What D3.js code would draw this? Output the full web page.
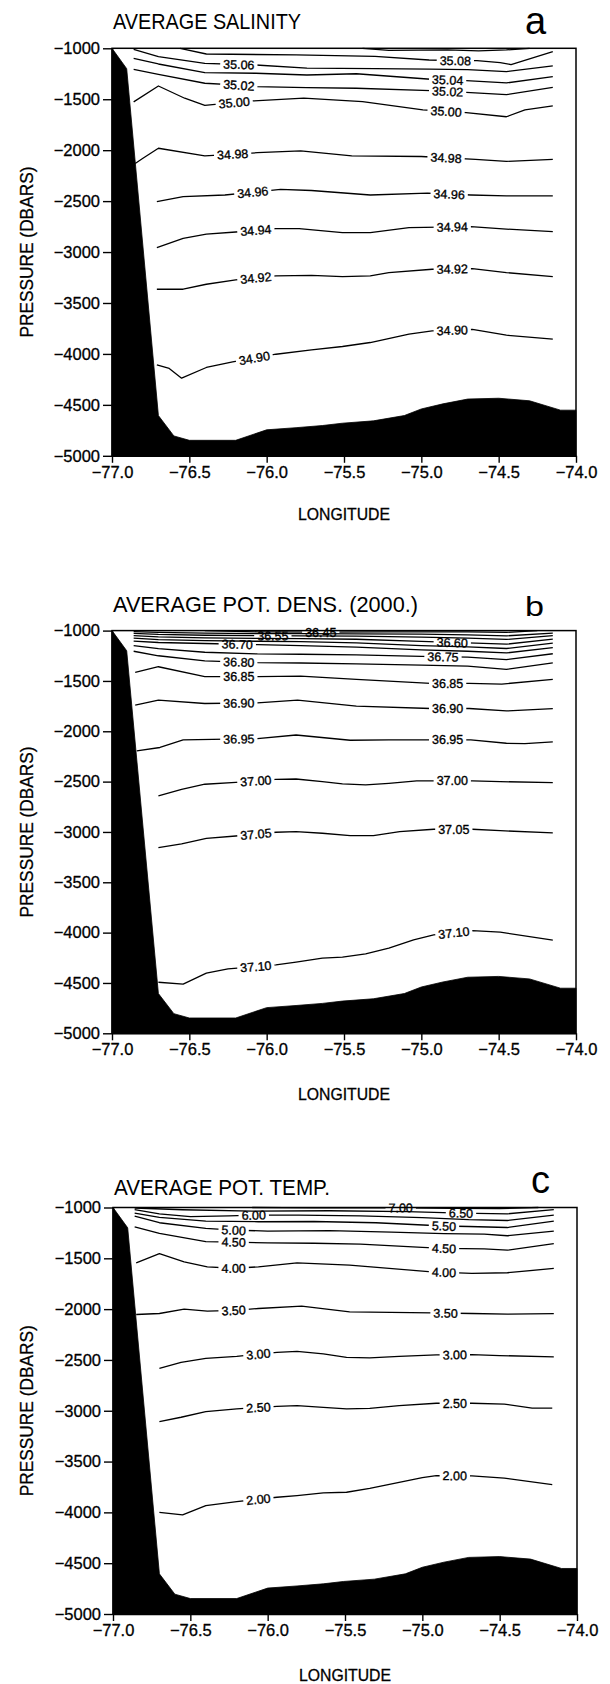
<!DOCTYPE html>
<html><head><meta charset="utf-8">
<script src="https://cdn.jsdelivr.net/npm/d3@7"></script>
<style>
body{margin:0;background:#fff;}
svg{display:block;}
text{font-family:"Liberation Sans",Arial,sans-serif;fill:#000;}
</style></head><body>
<svg id="chart" width="610" height="1684"></svg>
<script>
// ---------- DATA ----------
const lonTicks = [-77.0, -76.5, -76.0, -75.5, -75.0, -74.5, -74.0];
const pressureTicks = [-1000, -1500, -2000, -2500, -3000, -3500, -4000, -4500, -5000];

// bottom topography (lon, pressure)
const bathymetry = [[-77,-1000],[-76.905,-1200],[-76.70,-4605],[-76.60,-4805],[-76.50,-4848],[-76.20,-4848],
  [-76.00,-4745],[-75.81,-4724],[-75.64,-4703],[-75.51,-4680],[-75.31,-4657],[-75.11,-4605],[-75.00,-4540],
  [-74.86,-4490],[-74.70,-4443],[-74.50,-4435],[-74.30,-4460],[-74.10,-4552],[-74.00,-4552]];

// (a) salinity
const salinityLevels = ["35.10","35.08","35.06","35.04","35.02","35.00","34.98","34.96","34.94","34.92","34.90"];
const salinityLines = [
  [[-75.38,-1000],[-75.21,-1020],[-74.83,-1016],[-74.63,-1026],[-74.45,-1016],[-74.30,-1000]],
  [[-76.56,-1000],[-76.39,-1056],[-75.81,-1065],[-75.30,-1080],[-74.95,-1115],[-74.78,-1121],[-74.64,-1121],[-74.49,-1140],[-74.42,-1160],[-74.15,-1033]],
  [[-76.86,-1010],[-76.70,-1082],[-76.40,-1147],[-76.07,-1164],[-75.74,-1195],[-75.30,-1200],[-74.95,-1205],[-74.70,-1210],[-74.45,-1229],[-74.15,-1173]],
  [[-76.86,-1098],[-76.70,-1154],[-76.40,-1239],[-76.07,-1245],[-75.74,-1262],[-75.42,-1250],[-74.94,-1304],[-74.71,-1317],[-74.45,-1340],[-74.15,-1278]],
  [[-76.86,-1206],[-76.70,-1255],[-76.40,-1343],[-76.18,-1362],[-76.07,-1376],[-75.74,-1386],[-75.42,-1392],[-74.94,-1415],[-74.71,-1432],[-74.45,-1455],[-74.15,-1383]],
  [[-76.86,-1526],[-76.70,-1370],[-76.53,-1490],[-76.40,-1560],[-76.30,-1545],[-76.09,-1517],[-75.76,-1490],[-75.38,-1523],[-74.99,-1605],[-74.71,-1631],[-74.45,-1672],[-74.33,-1605],[-74.15,-1566]],
  [[-76.85,-2130],[-76.80,-2080],[-76.70,-1981],[-76.40,-2055],[-76.06,-2025],[-75.78,-2007],[-75.45,-2055],[-75.00,-2062],[-74.65,-2090],[-74.45,-2110],[-74.15,-2090]],
  [[-76.71,-2505],[-76.54,-2455],[-76.27,-2440],[-75.91,-2385],[-75.71,-2396],[-75.33,-2440],[-74.96,-2422],[-74.68,-2440],[-74.45,-2449],[-74.15,-2449]],
  [[-76.71,-2956],[-76.54,-2865],[-76.39,-2825],[-76.20,-2803],[-75.94,-2770],[-75.79,-2770],[-75.51,-2809],[-75.33,-2809],[-75.08,-2760],[-74.68,-2750],[-74.45,-2775],[-74.15,-2799]],
  [[-76.71,-3365],[-76.54,-3365],[-76.39,-3316],[-76.20,-3274],[-75.94,-3234],[-75.71,-3228],[-75.51,-3241],[-75.33,-3234],[-75.21,-3202],[-74.93,-3169],[-74.67,-3162],[-74.45,-3202],[-74.15,-3241]],
  [[-76.71,-4107],[-76.63,-4143],[-76.55,-4238],[-76.39,-4133],[-76.22,-4078],[-75.94,-4003],[-75.71,-3960],[-75.51,-3927],[-75.33,-3888],[-75.08,-3806],[-74.93,-3774],[-74.67,-3760],[-74.45,-3816],[-74.15,-3855]]
];
const salinityLabelLons = [[],[-74.78],[-76.18],[-74.83],[-76.18,-74.83],[-76.21,-74.84],[-76.22,-74.84],[-76.09,-74.82],[-76.07,-74.80],[-76.07,-74.80],[-76.08,-74.80]];

// (b) potential density (2000)
const densityLevels = ["36.45","36.50","36.55","36.60","36.65","36.70","36.75","36.80","36.85","36.90","36.95","37.00","37.05","37.10"];
const densityLines = [
  [[-76.40,-1000],[-76.06,-1012],[-75.65,-1015],[-75.20,-1012],[-74.70,-1012],[-74.45,-1018],[-74.25,-1000]],
  [[-76.86,-1010],[-76.70,-1018],[-76.40,-1026],[-76.06,-1030],[-75.78,-1030],[-75.42,-1032],[-75.00,-1036],[-74.70,-1042],[-74.45,-1052],[-74.15,-1025]],
  [[-76.86,-1028],[-76.70,-1038],[-76.40,-1046],[-76.06,-1050],[-75.78,-1052],[-75.42,-1055],[-75.00,-1064],[-74.70,-1075],[-74.45,-1088],[-74.15,-1050]],
  [[-76.86,-1050],[-76.70,-1062],[-76.40,-1072],[-76.06,-1078],[-75.78,-1080],[-75.42,-1086],[-75.00,-1108],[-74.70,-1122],[-74.45,-1135],[-74.15,-1085]],
  [[-76.86,-1075],[-76.70,-1090],[-76.40,-1100],[-76.06,-1106],[-75.78,-1110],[-75.42,-1122],[-75.00,-1150],[-74.70,-1162],[-74.45,-1178],[-74.15,-1125]],
  [[-76.86,-1105],[-76.70,-1118],[-76.40,-1128],[-76.06,-1140],[-75.78,-1150],[-75.42,-1165],[-75.00,-1192],[-74.70,-1205],[-74.45,-1222],[-74.15,-1170]],
  [[-76.86,-1150],[-76.70,-1180],[-76.40,-1215],[-76.06,-1232],[-75.78,-1235],[-75.42,-1242],[-75.00,-1256],[-74.70,-1264],[-74.45,-1288],[-74.15,-1230]],
  [[-76.86,-1205],[-76.70,-1250],[-76.40,-1300],[-76.06,-1318],[-75.78,-1322],[-75.42,-1330],[-75.00,-1343],[-74.70,-1353],[-74.45,-1385],[-74.15,-1320]],
  [[-76.85,-1415],[-76.70,-1359],[-76.40,-1458],[-76.06,-1458],[-75.78,-1452],[-75.42,-1485],[-74.94,-1525],[-74.69,-1525],[-74.48,-1531],[-74.15,-1484]],
  [[-76.85,-1740],[-76.70,-1691],[-76.40,-1724],[-76.06,-1717],[-75.80,-1691],[-75.42,-1750],[-74.94,-1774],[-74.69,-1774],[-74.45,-1798],[-74.15,-1775]],
  [[-76.84,-2194],[-76.69,-2161],[-76.54,-2086],[-76.35,-2080],[-76.06,-2073],[-75.81,-2037],[-75.46,-2089],[-75.21,-2086],[-74.96,-2086],[-74.68,-2086],[-74.45,-2119],[-74.33,-2122],[-74.15,-2106]],
  [[-76.70,-2642],[-76.55,-2576],[-76.40,-2526],[-76.20,-2507],[-75.94,-2477],[-75.81,-2474],[-75.64,-2500],[-75.51,-2523],[-75.36,-2533],[-75.21,-2517],[-75.03,-2493],[-74.67,-2493],[-74.49,-2500],[-74.15,-2510]],
  [[-76.70,-3155],[-76.55,-3119],[-76.39,-3063],[-76.20,-3040],[-75.94,-3003],[-75.81,-2997],[-75.64,-3013],[-75.46,-3036],[-75.31,-3036],[-75.14,-2997],[-74.92,-2973],[-74.67,-2973],[-74.49,-2987],[-74.15,-3010]],
  [[-76.70,-4493],[-76.54,-4512],[-76.39,-4403],[-76.25,-4360],[-75.94,-4321],[-75.81,-4294],[-75.64,-4254],[-75.51,-4244],[-75.36,-4211],[-75.21,-4155],[-75.05,-4072],[-74.92,-4023],[-74.67,-3980],[-74.49,-3996],[-74.15,-4075]]
];
const densityLabelLons = [[-75.65],[],[-75.96],[-74.80],[],[-76.19],[-74.86],[-76.18],[-76.18,-74.83],[-76.18,-74.83],[-76.18,-74.83],[-76.07,-74.80],[-76.07,-74.79],[-76.07,-74.79]];

// (c) potential temperature
const tempLevels = ["7.00","6.50","6.00","5.50","5.00","4.50","4.00","3.50","3.00","2.50","2.00"];
const tempLines = [
  [[-76.10,-1000],[-75.70,-1004],[-75.14,-1003],[-74.80,-1008],[-74.50,-1010],[-74.25,-1000]],
  [[-76.86,-1005],[-76.55,-1022],[-76.10,-1035],[-75.60,-1032],[-75.10,-1040],[-74.75,-1055],[-74.45,-1062],[-74.15,-1020]],
  [[-76.86,-1020],[-76.70,-1062],[-76.50,-1090],[-76.25,-1082],[-76.09,-1075],[-75.80,-1075],[-75.40,-1082],[-75.00,-1100],[-74.70,-1120],[-74.45,-1128],[-74.15,-1075]],
  [[-76.86,-1055],[-76.70,-1098],[-76.40,-1135],[-76.06,-1140],[-75.70,-1138],[-75.30,-1150],[-74.86,-1182],[-74.70,-1187],[-74.45,-1197],[-74.15,-1135]],
  [[-76.86,-1085],[-76.70,-1150],[-76.40,-1205],[-76.22,-1223],[-76.00,-1232],[-75.60,-1228],[-75.20,-1242],[-74.86,-1258],[-74.60,-1262],[-74.45,-1278],[-74.15,-1232]],
  [[-76.86,-1190],[-76.70,-1255],[-76.40,-1335],[-76.22,-1340],[-76.00,-1348],[-75.70,-1352],[-75.40,-1360],[-75.00,-1392],[-74.86,-1402],[-74.60,-1408],[-74.45,-1420],[-74.15,-1355]],
  [[-76.85,-1544],[-76.70,-1453],[-76.54,-1535],[-76.39,-1584],[-76.22,-1598],[-76.06,-1584],[-75.81,-1545],[-75.47,-1568],[-74.94,-1633],[-74.68,-1648],[-74.45,-1642],[-74.15,-1600]],
  [[-76.85,-2053],[-76.70,-2043],[-76.54,-2000],[-76.39,-2020],[-76.21,-2012],[-76.06,-1994],[-75.78,-1971],[-75.47,-2027],[-74.94,-2037],[-74.68,-2043],[-74.45,-2050],[-74.15,-2045]],
  [[-76.70,-2582],[-76.56,-2523],[-76.40,-2484],[-76.20,-2464],[-75.94,-2425],[-75.81,-2415],[-75.64,-2441],[-75.49,-2474],[-75.34,-2480],[-75.15,-2464],[-74.91,-2451],[-74.68,-2448],[-74.50,-2457],[-74.15,-2470]],
  [[-76.70,-3107],[-76.56,-3064],[-76.40,-3008],[-76.20,-2982],[-75.94,-2956],[-75.81,-2949],[-75.64,-2966],[-75.49,-2982],[-75.34,-2976],[-75.15,-2949],[-74.91,-2926],[-74.68,-2926],[-74.47,-2935],[-74.29,-2974],[-74.16,-2974]],
  [[-76.70,-3999],[-76.55,-4025],[-76.40,-3933],[-76.20,-3894],[-75.94,-3851],[-75.81,-3835],[-75.64,-3809],[-75.49,-3802],[-75.34,-3763],[-75.15,-3704],[-75.00,-3658],[-74.91,-3638],[-74.68,-3640],[-74.47,-3662],[-74.16,-3727]]
];
const tempLabelLons = [[-75.14],[-74.75],[-76.09],[-74.86],[-76.22],[-76.22,-74.86],[-76.22,-74.86],[-76.22,-74.85],[-76.06,-74.79],[-76.06,-74.79],[-76.06,-74.79]];

const titles = ["AVERAGE SALINITY", "AVERAGE POT. DENS. (2000.)", "AVERAGE POT. TEMP."];
const panelLetters = ["a", "b", "c"];
const xAxisTitle = "LONGITUDE";
const yAxisTitle = "PRESSURE (DBARS)";

// ---------- LAYOUT ----------
const layout = [
  {top:48.3, bottom:455.8, left:112, right:576, titleBase:29, titleW:188, letterX:525, letterBase:33.5, letterSize:38, letterW:null, xlabBase:520},
  {top:630.6, bottom:1033.3, left:112, right:576, titleBase:612, titleW:305, letterX:525, letterBase:615.5, letterSize:28, letterW:19, xlabBase:1100},
  {top:1207.5, bottom:1614, left:113, right:577, titleBase:1195, titleW:216, letterX:531, letterBase:1193, letterSize:38, letterW:null, xlabBase:1681}
];
const contourSets = [
  {levels:salinityLevels, lines:salinityLines, labelLons:salinityLabelLons},
  {levels:densityLevels, lines:densityLines, labelLons:densityLabelLons},
  {levels:tempLevels, lines:tempLines, labelLons:tempLabelLons}
];

const svg = d3.select("#chart");
svg.append("rect").attr("width",610).attr("height",1684).attr("fill","#fff");
const defs = svg.append("defs");

function interpP(pts, lon){
  if (lon <= pts[0][0]) return pts[0][1];
  for (let k=0;k<pts.length-1;k++){
    const a=pts[k], b=pts[k+1];
    if (lon>=a[0] && lon<=b[0]){ const t=(lon-a[0])/(b[0]-a[0]); return a[1]+t*(b[1]-a[1]); }
  }
  return pts[pts.length-1][1];
}

layout.forEach((L, pi) => {
  const x = d3.scaleLinear().domain([-77,-74]).range([L.left, L.right]);
  const y = d3.scaleLinear().domain([-1000,-5000]).range([L.top, L.bottom]);
  const g = svg.append("g");
  const line = d3.line().x(d=>x(d[0])).y(d=>y(d[1]));

  // topography
  const poly = bathymetry.concat([[-74,-5000],[-77,-5000]]);
  g.append("path").attr("d", line(poly)+"Z").attr("fill","#000").attr("stroke","#000").attr("stroke-width",0.8);

  // contours
  const C = contourSets[pi];
  const labelG = svg.append("g").attr("font-size","12.5px").attr("stroke","#000").attr("stroke-width",0.35);
  C.lines.forEach((pts, i) => {
    const maskId = `m${pi}_${i}`;
    const mask = defs.append("mask").attr("id", maskId).attr("maskUnits","userSpaceOnUse")
      .attr("x",0).attr("y",0).attr("width",610).attr("height",1684);
    mask.append("rect").attr("x",0).attr("y",0).attr("width",610).attr("height",1684).attr("fill","#fff");
    C.labelLons[i].forEach(lon => {
      const px = x(lon), py = y(interpP(pts, lon));
      const t = labelG.append("text").attr("text-anchor","middle").attr("dy","0.36em").text(C.levels[i]);
      const w = t.node().getComputedTextLength();
      const lonA = x.invert(px - w/2), lonB = x.invert(px + w/2);
      const ang = Math.atan2(y(interpP(pts,lonB)) - y(interpP(pts,lonA)), x(lonB)-x(lonA)) * 180/Math.PI;
      t.attr("transform", `translate(${px},${py}) rotate(${ang})`);
      mask.append("rect").attr("x",-w/2-3).attr("y",-5.5).attr("width",w+6).attr("height",11)
        .attr("fill","#000").attr("transform", `translate(${px},${py}) rotate(${ang})`);
    });
    g.append("path").attr("d", line(pts)).attr("fill","none").attr("stroke","#000")
      .attr("stroke-width",1.3).attr("stroke-linejoin","round").attr("mask", `url(#${maskId})`);
  });

  // frame
  svg.append("rect").attr("x",L.left).attr("y",L.top).attr("width",L.right-L.left).attr("height",L.bottom-L.top)
    .attr("fill","none").attr("stroke","#000").attr("stroke-width",1.5);

  // axes
  const xa = svg.append("g").attr("transform",`translate(0,${L.bottom})`)
    .call(d3.axisBottom(x).tickValues(lonTicks).tickFormat(d3.format(".1f")).tickSize(7).tickSizeOuter(0).tickPadding(3));
  const ya = svg.append("g").attr("transform",`translate(${L.left},0)`)
    .call(d3.axisLeft(y).tickValues(pressureTicks).tickFormat(d3.format("d")).tickSize(9).tickSizeOuter(0).tickPadding(3));
  [xa, ya].forEach(a => {
    a.selectAll("text").attr("font-family","Liberation Sans, Arial, sans-serif").attr("font-size","16.5px")
      .attr("fill","#000").attr("stroke","#000").attr("stroke-width",0.3);
    a.selectAll("line").attr("stroke","#000").attr("stroke-width",1.4);
    a.select(".domain").attr("stroke","#000").attr("stroke-width",1.5);
  });

  // titles
  svg.append("text").attr("x", L.left+1).attr("y", L.titleBase).attr("font-size","22px")
    .attr("textLength", L.titleW).attr("lengthAdjust","spacingAndGlyphs").text(titles[pi]);
  const lt = svg.append("text").attr("x", L.letterX).attr("y", L.letterBase).attr("font-size", L.letterSize+"px").text(panelLetters[pi]);
  if (L.letterW) lt.attr("textLength", L.letterW).attr("lengthAdjust","spacingAndGlyphs");

  svg.append("text").attr("x", (L.left+L.right)/2).attr("y", L.xlabBase).attr("text-anchor","middle")
    .attr("font-size","16.5px").attr("stroke","#000").attr("stroke-width",0.3)
    .attr("textLength",92).attr("lengthAdjust","spacingAndGlyphs").text(xAxisTitle);
  svg.append("text").attr("transform", `translate(33,${(L.top+L.bottom)/2}) rotate(-90)`).attr("text-anchor","middle")
    .attr("font-size","19px").attr("stroke","#000").attr("stroke-width",0.25)
    .attr("textLength",171).attr("lengthAdjust","spacingAndGlyphs").text(yAxisTitle);
});
</script>
</body></html>
